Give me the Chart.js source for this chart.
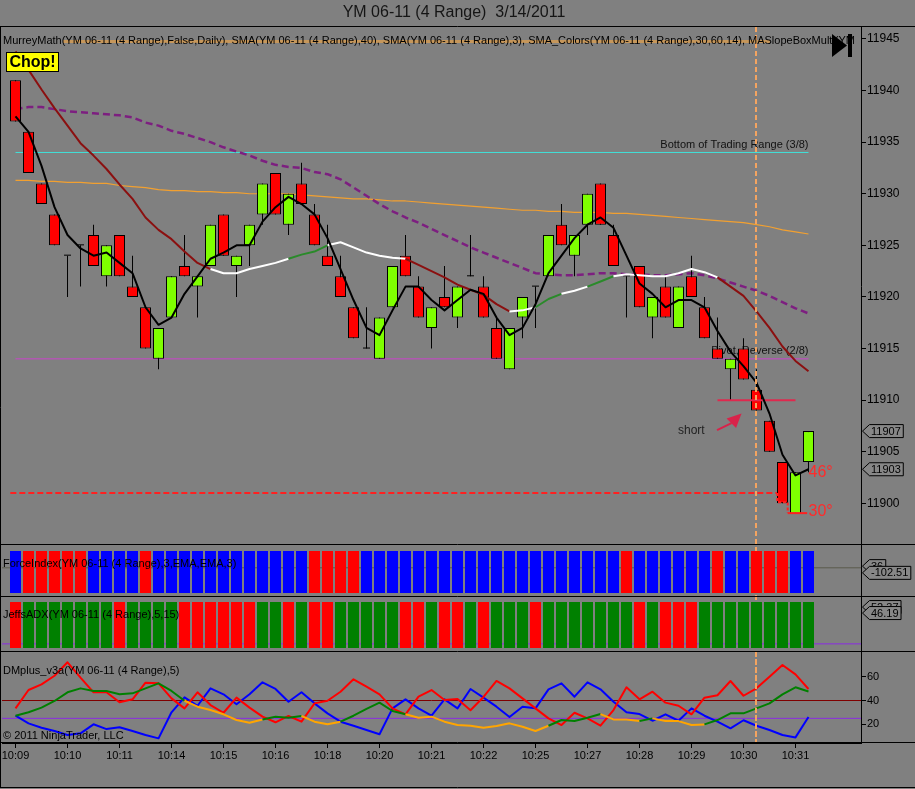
<!DOCTYPE html>
<html lang="pt-BR">
<head>
<meta charset="utf-8">
<title>YM 06-11 (4 Range) 3/14/2011</title>
<script src="https://cdn.jsdelivr.net/npm/chart.js@4.4.1/dist/chart.umd.min.js"></script>
<style>
  html, body { margin: 0; padding: 0; background: #808080; overflow: hidden; }
  canvas { display: block; }
</style>
</head>
<body>
<canvas id="chart" width="915" height="789"></canvas>
<script>
// Rótulos do eixo de tempo (um a cada 4 barras)
const timeLabels = ['10:09', '10:10', '10:11', '10:14', '10:15', '10:16', '10:18', '10:20',
  '10:21', '10:22', '10:25', '10:27', '10:28', '10:29', '10:30', '10:31'];
const timeBars = [0, 4, 8, 12, 16, 20, 24, 28, 32, 36, 40, 44, 48, 52, 56, 60];

// Barras de range (OHLC)
const opens = [11941, 11936, 11931, 11928, 11924, 11925, 11926, 11922, 11926, 11921,
  11919, 11914, 11918, 11923, 11921, 11923, 11928, 11923, 11925, 11928,
  11932, 11927, 11931, 11928, 11924, 11922, 11919, 11915, 11914, 11919,
  11924, 11921, 11917, 11920, 11918, 11922, 11921, 11917, 11913, 11918,
  11921, 11922, 11927, 11924, 11927, 11931, 11926, 11922, 11923, 11918,
  11921, 11917, 11922, 11919, 11915, 11913, 11915, 11911, 11908, 11904,
  11899, 11904];
const highs = [11941, 11936, 11931, 11928, 11924, 11925, 11927, 11925, 11926, 11924,
  11919, 11917, 11922, 11926, 11922, 11927, 11928, 11924, 11927, 11931,
  11932, 11930, 11933, 11929, 11927, 11924, 11919, 11919, 11918, 11923,
  11926, 11922, 11919, 11923, 11921, 11926, 11922, 11918, 11917, 11920,
  11921, 11926, 11929, 11926, 11930, 11931, 11927, 11922, 11923, 11920,
  11922, 11921, 11924, 11920, 11918, 11914, 11916, 11913, 11908, 11904,
  11903, 11907];
const lows = [11937, 11932, 11929, 11925, 11920, 11921, 11923, 11921, 11922, 11920,
  11915, 11913, 11918, 11922, 11918, 11923, 11924, 11920, 11923, 11927,
  11928, 11926, 11929, 11925, 11923, 11920, 11916, 11915, 11914, 11919,
  11922, 11918, 11915, 11919, 11917, 11922, 11918, 11914, 11913, 11916,
  11917, 11922, 11925, 11922, 11926, 11927, 11923, 11918, 11919, 11916,
  11918, 11917, 11920, 11916, 11914, 11910, 11912, 11909, 11905, 11900,
  11899, 11903];
const closes = [11937, 11932, 11929, 11925, 11924, 11925, 11923, 11925, 11922, 11920,
  11915, 11917, 11922, 11922, 11922, 11927, 11924, 11924, 11927, 11931,
  11928, 11930, 11929, 11925, 11923, 11920, 11916, 11915, 11918, 11923,
  11922, 11918, 11919, 11919, 11921, 11922, 11918, 11914, 11917, 11920,
  11921, 11926, 11925, 11926, 11930, 11927, 11923, 11922, 11919, 11920,
  11918, 11921, 11920, 11916, 11914, 11914, 11912, 11909, 11905, 11900,
  11903, 11907];

// Médias
const sma3 = [11937.5, 11936.0, 11932.7, 11928.7, 11926.0, 11924.7, 11924.0, 11924.3, 11923.3, 11922.3,
  11919.0, 11917.3, 11918.0, 11920.3, 11922.0, 11923.7, 11924.3, 11925.0, 11925.0, 11927.3,
  11928.7, 11929.7, 11929.0, 11928.0, 11925.7, 11922.7, 11919.7, 11917.0, 11916.3, 11918.7,
  11921.0, 11921.0, 11919.7, 11918.7, 11919.7, 11920.7, 11920.3, 11918.0, 11916.3, 11917.0,
  11919.3, 11922.3, 11924.0, 11925.7, 11927.0, 11927.7, 11926.7, 11924.0, 11921.3, 11920.3,
  11919.0, 11919.7, 11919.7, 11919.0, 11916.7, 11914.7, 11913.3, 11911.7, 11908.7, 11904.7,
  11902.7, 11903.3];
const smaColors = [11943.8, 11942.0, 11940.1, 11938.3, 11936.6, 11934.9, 11933.7, 11932.4, 11930.9, 11929.5,
  11927.7, 11926.5, 11925.6, 11924.4, 11923.3, 11922.7, 11922.3, 11922.3, 11922.7, 11923.0,
  11923.3, 11923.7, 11924.1, 11924.4, 11925.0, 11925.3, 11924.8, 11924.3, 11924.0, 11923.8,
  11923.7, 11923.1, 11922.5, 11921.9, 11921.2, 11920.7, 11920.2, 11919.3, 11918.6, 11918.7,
  11919.0, 11919.8, 11920.3, 11920.6, 11921.0, 11921.5, 11922.0, 11922.2, 11922.1, 11922.0,
  11922.0, 11922.3, 11922.7, 11922.4, 11921.9, 11921.0, 11920.1, 11918.6, 11917.0, 11915.2,
  11913.8, 11912.8];
// d = caindo, f = lateral, u = subindo
const smaColorState = ('ddddddddddddddd' + 'ffffff' + 'uuu' + 'ffffff' + 'dddddddd' + 'ff' + 'uu' +
  'ff' + 'uu' + 'ffffffff' + 'dddddddd').split('');
const sma40 = [11938.2, 11938.4, 11938.4, 11938.2, 11938.0, 11937.9, 11937.8, 11937.7, 11937.6, 11937.4,
  11936.9, 11936.6, 11936.1, 11935.8, 11935.4, 11935.0, 11934.5, 11934.1, 11933.7, 11933.2,
  11932.8, 11932.6, 11932.5, 11932.1, 11931.9, 11931.4, 11930.6, 11929.8, 11929.0, 11928.3,
  11927.7, 11927.2, 11926.6, 11926.0, 11925.4, 11924.8, 11924.3, 11923.8, 11923.3, 11922.8,
  11922.3, 11922.2, 11922.1, 11922.1, 11922.2, 11922.3, 11922.3, 11922.2, 11922.2, 11922.1,
  11922.1, 11922.2, 11922.3, 11922.1, 11921.8, 11921.4, 11921.0, 11920.6, 11920.1, 11919.5,
  11918.9, 11918.4];
const murreyAvg = [11931.3, 11931.3, 11931.2, 11931.2, 11931.1, 11931.1, 11931.0, 11931.0, 11930.8, 11930.7,
  11930.6, 11930.4, 11930.3, 11930.3, 11930.2, 11930.2, 11930.1, 11930.1, 11930.0, 11930.0,
  11930.0, 11930.0, 11929.9, 11929.8, 11929.7, 11929.6, 11929.5, 11929.5, 11929.4, 11929.3,
  11929.3, 11929.2, 11929.1, 11929.0, 11928.9, 11928.8, 11928.7, 11928.6, 11928.5, 11928.4,
  11928.4, 11928.3, 11928.3, 11928.2, 11928.2, 11928.2, 11928.1, 11928.1, 11928.0, 11927.9,
  11927.8, 11927.7, 11927.6, 11927.5, 11927.4, 11927.3, 11927.2, 11927.0, 11926.8, 11926.5,
  11926.3, 11926.1];

const priceTicks = [11900, 11905, 11910, 11915, 11920, 11925, 11930, 11935, 11940, 11945];
const levelRangeBottom = 11934;
const levelPivot = 11914;
const levelStop = 11901;
const levelShort = 11910;

// Painéis de cores (1 = azul / verde)
const forceUp = [1, 0, 0, 0, 0, 0, 1, 1, 1, 1, 0, 1, 1, 1, 1, 1, 1, 1, 1, 1, 1, 1, 1, 0, 0, 0, 0, 1, 1, 1, 1,
  1, 1, 1, 1, 1, 1, 1, 1, 1, 1, 1, 1, 1, 1, 1, 1, 0, 1, 1, 1, 1, 1, 1, 0, 1, 1, 0, 0, 0, 1, 1];
const adxUp = [0, 1, 1, 1, 1, 1, 1, 1, 0, 1, 1, 1, 1, 0, 0, 0, 0, 0, 0, 1, 1, 0, 1, 0, 0, 1, 1, 1, 1, 1, 0,
  0, 1, 0, 0, 1, 0, 1, 1, 1, 0, 1, 1, 1, 1, 1, 1, 1, 0, 1, 0, 0, 0, 1, 1, 1, 1, 1, 1, 1, 1, 1];

// DMplus
const dmPlus = [33.4, 48.8, 53.6, 60.8, 72.1, 59.2, 46.9, 46.9, 38.5, 41.0,
  55.0, 54.4, 41.8, 33.4, 46.9, 36.2, 29.7, 42.4, 34.0, 26.4,
  21.7, 27.0, 22.2, 37.6, 39.8, 47.4, 57.8, 51.6, 45.2, 33.4,
  28.4, 43.2, 48.8, 40.4, 41.2, 31.8, 43.0, 56.4, 50.2, 41.8,
  33.4, 25.0, 19.4, 29.7, 25.0, 18.8, 32.0, 51.1, 41.0, 47.4,
  38.2, 35.6, 28.4, 42.4, 44.4, 56.4, 44.0, 50.2, 60.0, 69.8,
  62.0, 49.7];
const dmMinus = [27.2, 20.8, 17.1, 14.4, 11.0, 12.4, 20.0, 16.0, 17.5, 14.4,
  11.0, 8.2, 30.1, 42.7, 35.6, 50.2, 45.2, 36.8, 45.2, 55.3,
  49.7, 39.0, 46.9, 37.6, 29.2, 22.2, 18.8, 15.2, 11.6, 33.4,
  41.0, 33.4, 27.2, 41.0, 33.4, 49.7, 42.4, 34.8, 26.1, 34.8,
  33.4, 49.4, 54.4, 43.2, 55.3, 49.4, 39.0, 30.1, 28.6, 23.0,
  28.4, 23.0, 33.4, 27.2, 22.2, 16.6, 23.4, 18.8, 15.2, 11.0,
  9.0, 26.1];
const dmAdx = [27.2, 30.1, 34.0, 39.6, 46.9, 50.2, 48.0, 48.0, 45.2, 46.0,
  50.2, 54.4, 48.0, 39.8, 34.8, 32.0, 28.4, 23.6, 21.3, 24.1,
  26.4, 25.5, 27.0, 22.2, 20.0, 22.2, 27.2, 32.9, 38.2, 31.2,
  28.4, 25.5, 26.4, 22.2, 19.4, 18.8, 17.1, 18.5, 20.8, 18.0,
  14.4, 18.8, 23.6, 22.7, 25.5, 28.6, 24.1, 24.1, 22.7, 25.0,
  22.7, 22.7, 19.4, 19.9, 23.6, 29.2, 29.2, 33.4, 37.6, 45.2,
  51.1, 47.6];
const dmAdxUp = [1, 1, 1, 1, 1, 1, 1, 1, 1, 1, 1, 1, 1, 0, 0, 0, 0, 0, 0, 1,
  1, 1, 0, 0, 0, 1, 1, 1, 1, 1, 0, 0, 0, 0, 0, 0, 0, 0, 0, 0,
  0, 1, 1, 1, 1, 0, 0, 0, 1, 0, 0, 0, 0, 1, 1, 1, 1, 1, 1, 1, 1, 1];
const dmTicks = [20, 40, 60];
const dmUpper = 40;
const dmLower = 25;

const signalBar = 57;   // linha vertical tracejada
const xMin = -1.04, xMax = 65.04;

const FONT = "'Liberation Sans', Arial, sans-serif";
Chart.defaults.font.family = FONT;

const pts = arr => arr.map((v, i) => ({ x: i, y: v }));
const flat = (v, a, b) => [{ x: a, y: v }, { x: b, y: v }];

// Corpos, dojis e pavios
const bodyData = [], bodyColors = [], dojiData = [];
opens.forEach((o, i) => {
  if (o === closes[i]) {
    dojiData.push({ x: i, y: [o, o] });
  } else {
    bodyData.push({ x: i, y: [o, closes[i]] });
    bodyColors.push(closes[i] > o ? '#7fff00' : '#ff0000');
  }
});
const wickData = lows.map((l, i) => ({ x: i, y: [l, highs[i]] }));

const smaPalette = { d: '#8b1010', f: '#ffffff', u: '#2a8a2a' };

const lineBase = { type: 'line', pointRadius: 0, tension: 0, fill: false, borderJoinStyle: 'round' };
const barBase = { type: 'bar', grouped: false, borderSkipped: false, inflateAmount: 0 };

function flag(ctx, x, y, text) {
  ctx.font = '11px ' + FONT;
  const w = ctx.measureText(text).width + 4;
  ctx.beginPath();
  ctx.moveTo(x, y);
  ctx.lineTo(x + 7, y - 6.5);
  ctx.lineTo(x + 7 + w, y - 6.5);
  ctx.lineTo(x + 7 + w, y + 6.5);
  ctx.lineTo(x + 7, y + 6.5);
  ctx.closePath();
  ctx.fillStyle = '#878787';
  ctx.fill();
  ctx.strokeStyle = '#000';
  ctx.lineWidth = 1;
  ctx.stroke();
  ctx.fillStyle = '#000';
  ctx.textAlign = 'left';
  ctx.textBaseline = 'middle';
  ctx.fillText(text, x + 8.5, y + 0.5);
}

function hline(ctx, x1, x2, y) {
  ctx.beginPath();
  ctx.moveTo(x1, y);
  ctx.lineTo(x2, y);
  ctx.stroke();
}

const decor = {
  id: 'decor',
  beforeDraw(chart) {
    const { ctx, width, height } = chart;
    ctx.save();
    ctx.fillStyle = '#808080';
    ctx.fillRect(0, 0, width, height);
    ctx.restore();
  },
  beforeDatasetsDraw(chart) {
    const { ctx, scales: { x, y }, chartArea: a } = chart;
    ctx.save();
    // linha vertical atrás das barras dos painéis
    ctx.strokeStyle = '#f4a460';
    ctx.lineWidth = 2;
    ctx.setLineDash([5, 3]);
    const vx = Math.round(x.getPixelForValue(signalBar));
    ctx.beginPath();
    ctx.moveTo(vx, a.top);
    ctx.lineTo(vx, a.bottom);
    ctx.stroke();
    ctx.setLineDash([]);
    // textos dos níveis Murrey
    ctx.font = '11px ' + FONT;
    ctx.fillStyle = '#111';
    ctx.textAlign = 'right';
    ctx.textBaseline = 'middle';
    ctx.fillText('Bottom of Trading Range (3/8)', x.getPixelForValue(61), y.getPixelForValue(levelRangeBottom) - 8);
    ctx.fillText('Pivot, Reverse (2/8)', x.getPixelForValue(61), y.getPixelForValue(levelPivot) - 8);
    ctx.restore();
  },
  afterDraw(chart) {
    const { ctx, width, height, scales: { x, y, yF, yA, yD }, chartArea: a } = chart;
    ctx.save();

    // linha vertical por cima do preço e do DMplus
    ctx.strokeStyle = '#f4a460';
    ctx.lineWidth = 2;
    ctx.setLineDash([5, 3]);
    const vx = Math.round(x.getPixelForValue(signalBar));
    [[y.top, y.bottom], [yD.top, yD.bottom]].forEach(([t, b]) => {
      ctx.beginPath();
      ctx.moveTo(vx, t);
      ctx.lineTo(vx, b);
      ctx.stroke();
    });

    // suporte 30° (tracejado vermelho)
    const P = (b, v) => [x.getPixelForValue(b), y.getPixelForValue(v)];
    ctx.strokeStyle = '#ff2020';
    ctx.lineWidth = 2;
    ctx.setLineDash([3, 2]);
    ctx.beginPath();
    [[58.6, levelStop], [58.6, 11900.1], [59.4, 11900.1], [59.4, 11899.05]].forEach((p, i) => {
      const [px, py] = P(p[0], p[1]);
      i ? ctx.lineTo(px, py) : ctx.moveTo(px, py);
    });
    ctx.stroke();
    ctx.setLineDash([]);
    ctx.beginPath();
    ctx.moveTo(...P(59.4, 11899.05));
    ctx.lineTo(...P(60.9, 11899.05));
    ctx.stroke();

    // seta "short"
    const [tx, ty] = P(55.85, 11908.7);
    ctx.fillStyle = '#d8234a';
    ctx.strokeStyle = '#d8234a';
    ctx.beginPath();
    ctx.moveTo(tx, ty);
    ctx.lineTo(tx - 15, ty + 5);
    ctx.lineTo(tx - 5.5, ty + 14.5);
    ctx.closePath();
    ctx.fill();
    ctx.lineWidth = 2;
    ctx.beginPath();
    ctx.moveTo(tx - 10, ty + 9.5);
    ctx.lineTo(tx - 24.5, ty + 16.5);
    ctx.stroke();

    ctx.font = '12px ' + FONT;
    ctx.fillStyle = '#222';
    ctx.textAlign = 'left';
    ctx.textBaseline = 'middle';
    ctx.fillText('short', ...P(50.96, 11907.0));

    ctx.font = '16px ' + FONT;
    ctx.fillStyle = '#ff2a2a';
    const [ax, a46] = P(61, 11903.0);
    ctx.fillText('46°', ax, a46);
    ctx.fillText('30°', ax, y.getPixelForValue(11899.2));

    // molduras dos painéis
    ctx.strokeStyle = '#000';
    ctx.lineWidth = 1;
    [a.top, yF.top, yA.top, yD.top, a.bottom].forEach(py => hline(ctx, 0, width, Math.round(py) - 0.5));
    hline(ctx, 0, width, height - 1.5);
    ctx.beginPath();
    ctx.moveTo(0.5, a.top);
    ctx.lineTo(0.5, height - 1);
    ctx.stroke();

    // título
    ctx.font = '16px ' + FONT;
    ctx.fillStyle = '#151515';
    ctx.textAlign = 'center';
    ctx.fillText('YM 06-11 (4 Range)  3/14/2011', 454, 13);

    // legenda dos indicadores
    ctx.strokeStyle = 'rgba(255, 170, 60, 0.55)';
    ctx.lineWidth = 3;
    hline(ctx, 63, 770, 41.5);
    ctx.font = '11px ' + FONT;
    ctx.fillStyle = '#000';
    ctx.textAlign = 'left';
    ctx.save();
    ctx.beginPath();
    ctx.rect(0, a.top, 858, 30);
    ctx.clip();
    ctx.fillText('MurreyMath(YM 06-11 (4 Range),False,Daily), SMA(YM 06-11 (4 Range),40), SMA(YM 06-11 (4 Range),3), SMA_Colors(YM 06-11 (4 Range),30,60,14), MASlopeBoxMulti(YM 06-11', 3, 41);
    ctx.restore();

    ctx.fillText('ForceIndex(YM 06-11 (4 Range),3,EMA,EMA,3)', 3, yF.top + 19);
    ctx.fillText('JeffsADX(YM 06-11 (4 Range),5,15)', 3, yA.top + 18);
    ctx.fillText('DMplus_v3a(YM 06-11 (4 Range),5)', 3, yD.top + 19);
    ctx.fillText('\u00A9 2011 NinjaTrader, LLC', 3, yD.bottom - 7);

    // botão "Chop!"
    ctx.fillStyle = '#ffff00';
    ctx.fillRect(6.5, 52.5, 52, 19);
    ctx.strokeStyle = '#000';
    ctx.lineWidth = 1;
    ctx.strokeRect(6.5, 52.5, 52, 19);
    ctx.fillStyle = '#000';
    ctx.font = 'bold 16px ' + FONT;
    ctx.textAlign = 'center';
    ctx.fillText('Chop!', 32.5, 62.5);

    // ícone de reprodução
    ctx.beginPath();
    ctx.moveTo(832, 34);
    ctx.lineTo(847, 45.5);
    ctx.lineTo(832, 57);
    ctx.closePath();
    ctx.fill();
    ctx.fillRect(848, 34, 4, 23);

    // marcadores de valor no eixo
    const fx = a.right + 1.5;
    flag(ctx, fx, y.getPixelForValue(closes[closes.length - 1]), String(closes[closes.length - 1]));
    flag(ctx, fx, y.getPixelForValue(sma3[sma3.length - 1]), sma3[sma3.length - 1].toFixed(0));
    flag(ctx, fx, yF.getPixelForValue(0.64), '36');
    flag(ctx, fx, yF.getPixelForValue(0.48), '-102.51');
    flag(ctx, fx, yA.getPixelForValue(0.89), '52.37');
    flag(ctx, fx, yA.getPixelForValue(0.76), '46.19');

    ctx.restore();
  }
};

const rightAxis = (weight, min, max) => ({
  position: 'right',
  stack: 'paineis',
  stackWeight: weight,
  min: min,
  max: max,
  afterFit: s => { s.width = 54; },
  grid: { display: false },
  ticks: { display: false },
  border: { display: true, color: '#000' }
});

const ctx = document.getElementById('chart').getContext('2d');
new Chart(ctx, {
  type: 'bar',
  data: {
    datasets: [
      // DMplus
      { ...lineBase, data: pts(dmAdx), yAxisID: 'yD', borderWidth: 2, borderColor: '#008000',
        segment: { borderColor: c => dmAdxUp[c.p0DataIndex] ? '#008000' : '#ffa500' }, order: 1 },
      { ...lineBase, data: pts(dmPlus), yAxisID: 'yD', borderWidth: 2, borderColor: '#ff0000', order: 2 },
      { ...lineBase, data: pts(dmMinus), yAxisID: 'yD', borderWidth: 2, borderColor: '#0000ff', order: 3 },
      { ...lineBase, data: flat(dmUpper, xMin, xMax), yAxisID: 'yD', borderWidth: 1, borderColor: '#800000', order: 30 },
      { ...lineBase, data: flat(dmLower, xMin, xMax), yAxisID: 'yD', borderWidth: 1, borderColor: '#8a2be2', order: 30 },

      // preço
      { ...lineBase, data: pts(sma3), yAxisID: 'y', borderWidth: 2, borderColor: '#000', order: 4 },
      { ...lineBase, data: pts(smaColors), yAxisID: 'y', borderWidth: 2, borderColor: '#8b1010',
        segment: { borderColor: c => smaPalette[smaColorState[c.p0DataIndex]] }, order: 5 },
      { ...barBase, data: bodyData, yAxisID: 'y', backgroundColor: bodyColors, borderColor: '#000',
        borderWidth: 1, barThickness: 11, order: 6 },
      { ...barBase, data: dojiData, yAxisID: 'y', backgroundColor: '#000', borderWidth: 0,
        barThickness: 7, minBarLength: 1, order: 6 },
      { ...barBase, data: wickData, yAxisID: 'y', backgroundColor: '#000', borderWidth: 0,
        barThickness: 1, order: 7 },
      { ...lineBase, data: pts(sma40), yAxisID: 'y', borderWidth: 2.5, borderColor: '#7d1f80',
        borderDash: [7, 4], order: 8 },
      { ...lineBase, data: pts(murreyAvg), yAxisID: 'y', borderWidth: 1.2, borderColor: '#f2a030', order: 9 },
      { ...lineBase, data: flat(levelRangeBottom, 0, 61), yAxisID: 'y', borderWidth: 1, borderColor: '#40e0d8', order: 10 },
      { ...lineBase, data: flat(levelPivot, 0, 61), yAxisID: 'y', borderWidth: 1, borderColor: '#cc44cc', order: 10 },
      { ...lineBase, data: flat(levelStop, -0.4, 58.6), yAxisID: 'y', borderWidth: 2, borderColor: '#ff2020',
        borderDash: [6, 3], order: 10 },
      { ...lineBase, data: flat(levelShort, 54, 60), yAxisID: 'y', borderWidth: 2, borderColor: '#e0284e', order: 4 },

      // ForceIndex e JeffsADX
      { ...barBase, data: forceUp.map((v, i) => ({ x: i, y: [0, 1] })), yAxisID: 'yF',
        backgroundColor: forceUp.map(v => v ? '#0000ff' : '#ff0000'), borderWidth: 0, barThickness: 11, order: 6 },
      { ...lineBase, data: flat(0.6, xMin, xMax), yAxisID: 'yF', borderWidth: 1, borderColor: '#5a5a4c', order: 30 },
      { ...barBase, data: adxUp.map((v, i) => ({ x: i, y: [0, 1] })), yAxisID: 'yA',
        backgroundColor: adxUp.map(v => v ? '#008000' : '#ff0000'), borderWidth: 0, barThickness: 11, order: 6 },
      { ...lineBase, data: flat(0.09, xMin, xMax), yAxisID: 'yA', borderWidth: 1, borderColor: '#8a2be2', order: 30 }
    ]
  },
  options: {
    responsive: false,
    animation: false,
    devicePixelRatio: 1,
    events: [],
    layout: { padding: { left: 2, top: 27, right: 0, bottom: 0 } },
    plugins: { legend: { display: false }, tooltip: { enabled: false }, title: { display: false } },
    scales: {
      x: {
        type: 'linear',
        position: 'bottom',
        min: xMin,
        max: xMax,
        offset: false,
        afterBuildTicks: s => { s.ticks = timeBars.map(v => ({ value: v })); },
        afterFit: s => { s.height = 46; },
        ticks: {
          autoSkip: false, maxRotation: 0, color: '#000', font: { size: 11 }, padding: 1,
          callback: v => timeLabels[timeBars.indexOf(v)]
        },
        grid: { offset: false, drawOnChartArea: false, drawTicks: true, tickLength: 5, color: '#000' },
        border: { display: true, color: '#000' }
      },
      y: {
        ...rightAxis(518, 11895.96, 11946.16),
        afterBuildTicks: s => { s.ticks = priceTicks.map(v => ({ value: v })); },
        ticks: { display: true, color: '#000', font: { size: 12 }, padding: 1, callback: v => String(v) },
        grid: { display: true, offset: false, drawOnChartArea: false, drawTicks: true, tickLength: 5, color: '#000' }
      },
      yF: rightAxis(52, -0.095, 1.143),
      yA: rightAxis(55, -0.087, 1.109),
      yD: {
        ...rightAxis(91, 4.29, 80.76),
        afterBuildTicks: s => { s.ticks = dmTicks.map(v => ({ value: v })); },
        ticks: { display: true, color: '#000', font: { size: 11 }, padding: 1, callback: v => String(v) },
        grid: { display: true, offset: false, drawOnChartArea: false, drawTicks: true, tickLength: 5, color: '#000' }
      }
    }
  },
  plugins: [decor]
});
</script>
</body>
</html>
